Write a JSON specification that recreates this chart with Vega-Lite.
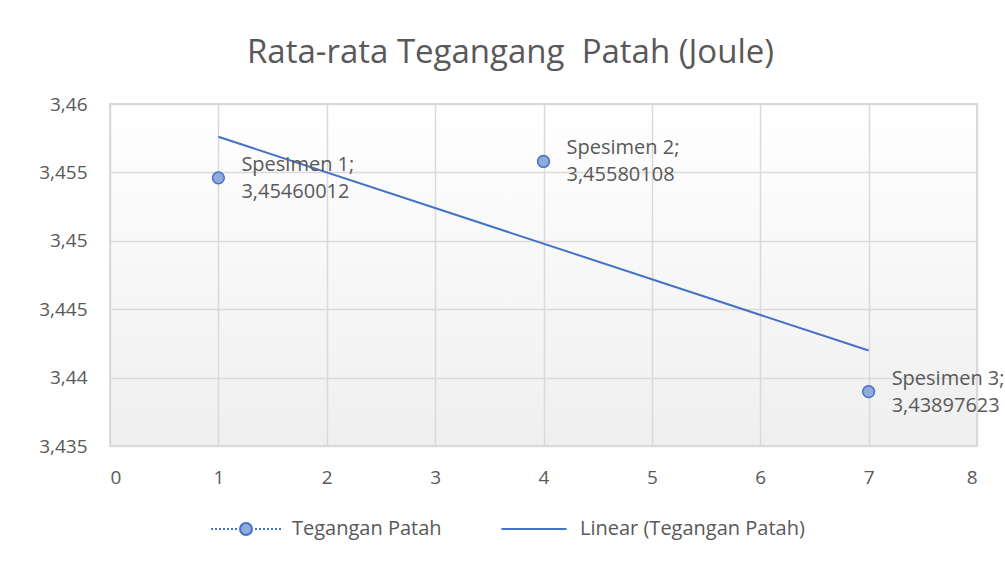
{
  "$schema": "https://vega.github.io/schema/vega-lite/v6.json",
  "autosize": {"type": "none"},
  "padding": {"left": 110, "top": 104, "right": 28, "bottom": 118},
  "width": 867,
  "height": 342,
  "background": "#ffffff",
  "title": {
    "text": "Rata-rata Tegangang\u00a0 Patah (Joule)",
    "anchor": "middle",
    "dx": -33,
    "offset": -8,
    "baseline": "bottom",
    "font": "Open Sans",
    "fontSize": 33,
    "fontWeight": "normal",
    "color": "#595959"
  },
  "datasets": {
    "points": [
      {"x": 1, "y": 3.45460012, "name": "Spesimen 1;"},
      {"x": 4, "y": 3.45580108, "name": "Spesimen 2;"},
      {"x": 7, "y": 3.43897623, "name": "Spesimen 3;"}
    ]
  },
  "data": {"name": "points"},
  "encoding": {
    "x": {
      "field": "x", "type": "quantitative",
      "scale": {"domain": [0, 8], "nice": false, "zero": false},
      "axis": {"title": null, "values": [0, 1, 2, 3, 4, 5, 6, 7, 8], "format": "d", "labelPadding": 22}
    },
    "y": {
      "field": "y", "type": "quantitative",
      "scale": {"domain": [3.435, 3.46], "nice": false, "zero": false},
      "axis": {"title": null, "values": [3.435, 3.44, 3.445, 3.45, 3.455, 3.46], "format": "~r", "labelPadding": 23}
    }
  },
  "layer": [
    {
      "transform": [{"regression": "y", "on": "x", "extent": [1, 7]}],
      "mark": {"type": "line", "strokeWidth": 2},
      "encoding": {
        "stroke": {
          "datum": "Linear (Tegangan Patah)",
          "scale": {"domain": ["Tegangan Patah", "Linear (Tegangan Patah)"], "range": ["#4472c4", "#4472c4"]},
          "legend": {
            "title": null,
            "orient": "none",
            "legendX": 100,
            "legendY": 389,
            "direction": "horizontal",
            "columns": 2,
            "padding": 0,
            "symbolSize": 4900,
            "labelOffset": 10,
            "columnPadding": 55,
            "labelFont": "Open Sans",
            "labelFontSize": 20,
            "labelColor": "#595959",
            "labelLimit": 400,
            "encode": {
              "symbols": {
                "update": {
                  "shape": {"signal": "datum.value === 'Tegangan Patah' ? 'M-1,0h0.057M-0.886,0h0.057M-0.771,0h0.057M-0.657,0h0.057M-0.543,0h0.057M-0.429,0h0.057M-0.314,0h0.057M0.257,0h0.057M0.371,0h0.057M0.486,0h0.057M0.6,0h0.057M0.714,0h0.057M0.829,0h0.057M0.943,0h0.057M0.171,0A0.171,0.171,0,1,1,-0.171,0A0.171,0.171,0,1,1,0.171,0Z' : 'M-0.93,0H0.93'"},
                  "fill": {"signal": "datum.value === 'Tegangan Patah' ? '#8faadc' : 'transparent'"},
                  "stroke": {"value": "#4472c4"},
                  "strokeWidth": {"value": 2},
                  "opacity": {"value": 1}
                }
              }
            }
          }
        }
      }
    },
    {
      "mark": {"type": "point", "filled": true, "fill": "#8faadc", "size": 140, "strokeWidth": 1.5, "opacity": 1},
      "encoding": {
        "stroke": {"datum": "Tegangan Patah"}
      }
    },
    {
      "mark": {"type": "text", "align": "left", "baseline": "middle", "dx": 23, "dy": -13, "font": "Open Sans", "fontSize": 20, "color": "#595959"},
      "encoding": {"text": {"field": "name"}}
    },
    {
      "mark": {"type": "text", "align": "left", "baseline": "middle", "dx": 23, "dy": 14, "font": "Open Sans", "fontSize": 20, "color": "#595959"},
      "encoding": {"text": {"field": "y", "type": "quantitative", "format": ".9~r"}}
    }
  ],
  "config": {
    "locale": {"number": {"decimal": ",", "thousands": ".", "grouping": [3], "currency": ["", " €"]}},
    "view": {
      "fill": {"gradient": "linear", "x1": 0, "y1": 0, "x2": 0, "y2": 1, "stops": [{"offset": 0, "color": "#ffffff"}, {"offset": 1, "color": "#efefef"}]},
      "stroke": "#d9d9d9",
      "strokeWidth": 2
    },
    "axis": {
      "domain": false,
      "ticks": false,
      "grid": true,
      "gridColor": "#d9d9d9",
      "gridWidth": 1.5,
      "gridOpacity": 1,
      "labelFont": "Open Sans",
      "labelFontSize": 19,
      "labelColor": "#595959"
    }
  }
}
